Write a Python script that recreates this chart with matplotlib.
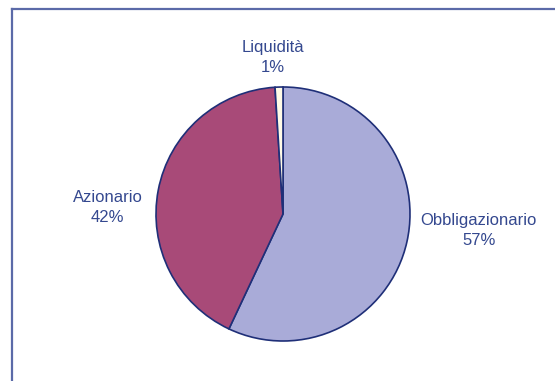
import matplotlib
matplotlib.use("Agg")
import matplotlib.pyplot as plt
from matplotlib.lines import Line2D

labels = ["Obbligazionario", "Azionario", "Liquidità"]
values = [57, 42, 1]
colors = ["#a9abd8", "#a84a78", "#fffbe6"]

W, H = 555, 381
fig = plt.figure(figsize=(W / 100, H / 100), dpi=100)

# pie centre / radius in pixels
cx, cy, r = 283, 214, 127
ax = fig.add_axes([(cx - r) / W, (H - cy - r) / H, 2 * r / W, 2 * r / H])
ax.pie(values, colors=colors, startangle=90, counterclock=False,
       wedgeprops=dict(edgecolor="#1f2f78", linewidth=1.2))
ax.set_xlim(-1, 1)
ax.set_ylim(-1, 1)
ax.axis("off")

# label positions (data coords, radius = 1)
label_pos = [(1.54, -0.13), (-1.38, 0.05), (-0.08, 1.23)]
for lab, val, (x, y) in zip(labels, values, label_pos):
    ax.text(x, y, f"{lab}\n{val}%", ha="center", va="center",
            fontsize=12, color="#34488f", family="Liberation Sans",
            linespacing=1.4)

# frame lines (top and left)
fc = "#5b6aa8"
fig.add_artist(Line2D([11.5 / W, 1], [1 - 8.5 / H, 1 - 8.5 / H],
                      transform=fig.transFigure, color=fc, lw=1.6))
fig.add_artist(Line2D([11.5 / W, 11.5 / W], [0, 1 - 8.5 / H],
                      transform=fig.transFigure, color=fc, lw=1.6))

fig.savefig("out.png", dpi=100)
